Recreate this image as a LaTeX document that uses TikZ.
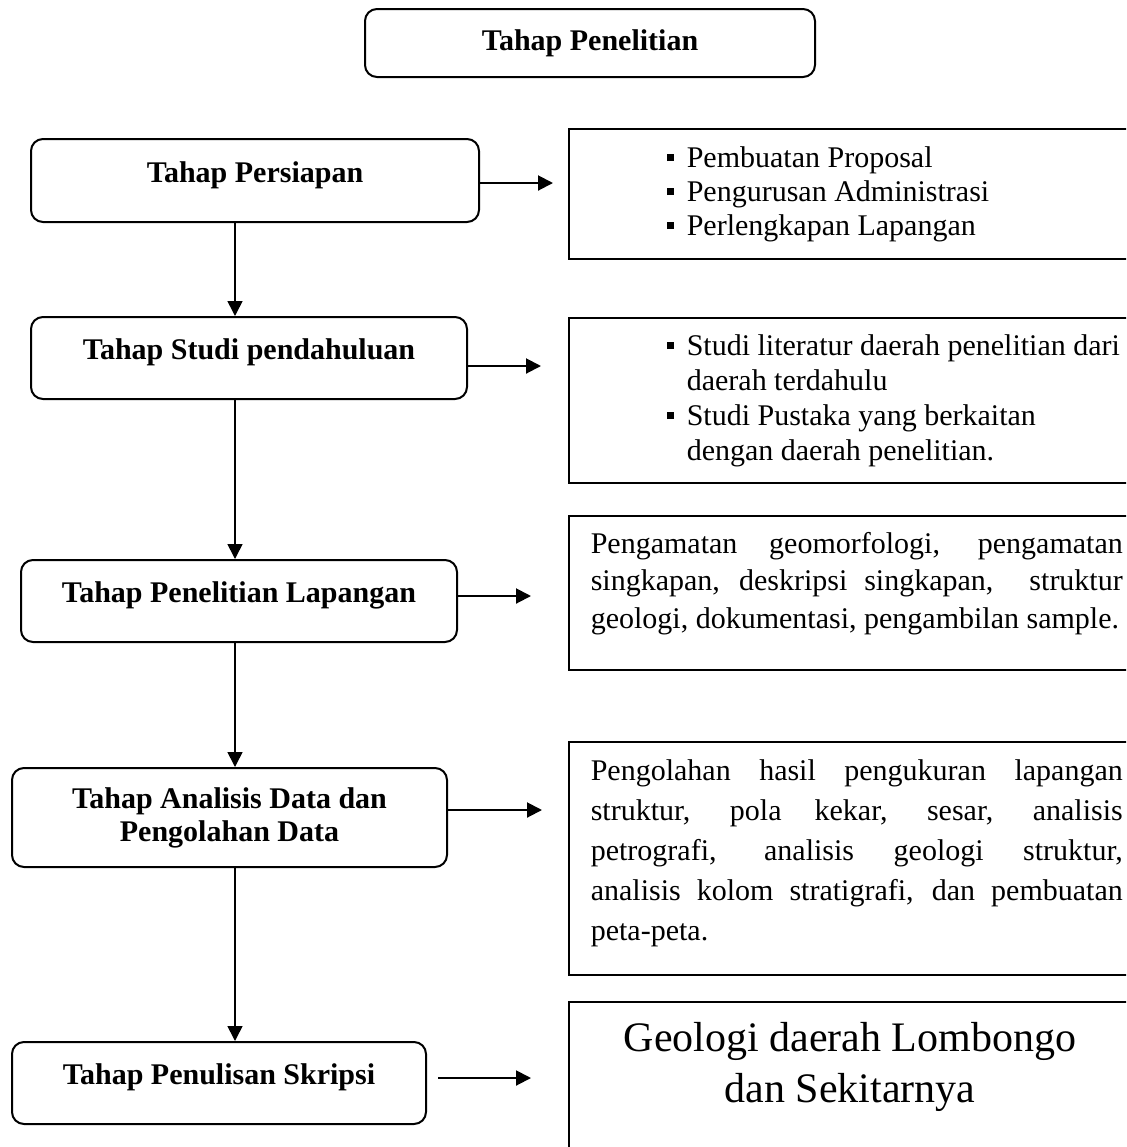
\documentclass[tikz,border=0pt]{standalone}
\usepackage{fontspec}
\setmainfont{Liberation Serif}
\usetikzlibrary{arrows.meta}

\newcommand{\kotak}{\rule[3pt]{3.5pt}{3.5pt}}

\begin{document}
\begin{tikzpicture}[x=0.5pt,y=-0.5pt,->,>={Triangle[length=7.5pt,width=7.5pt]},
                    line width=0.8pt]
  \tikzstyle{tahap}=[draw,rounded corners=6pt,line width=1pt,inner sep=0pt,align=center,
                     font=\fontsize{15}{16.5}\selectfont\bfseries]
  \tikzstyle{naik}=[text height=11pt,text depth=9.5pt]
  \tikzstyle{isi}=[draw,line width=1pt,inner sep=0pt,minimum width=285.5pt]
  \tikzstyle{teks}=[anchor=base west,inner sep=0pt]

  \useasboundingbox (0,0) rectangle (1126,1147);
  \clip (0,0) rectangle (1126,1147);

  \node[tahap,minimum width=225pt,minimum height=34pt]        (penelitian) at (590,43)     {Tahap Penelitian};

  \node[tahap,naik,minimum width=224pt,minimum height=41.5pt] (persiapan)  at (255,180.5)  {Tahap Persiapan};
  \node[tahap,naik,minimum width=218pt,minimum height=41pt]   (studi)      at (249,358)    {Tahap Studi pendahuluan};
  \node[tahap,naik,minimum width=218pt,minimum height=41pt]   (lapangan)   at (239,601)    {Tahap Penelitian Lapangan};
  \node[tahap,minimum width=217.5pt,minimum height=49.5pt]    (analisis)   at (229.5,817.5) {Tahap Analisis Data dan\\Pengolahan Data};
  \node[tahap,naik,minimum width=207pt,minimum height=41pt]   (skripsi)    at (219,1083)   {Tahap Penulisan Skripsi};

  % kotak keterangan di kanan
  \node[isi,minimum height=65pt]   (isi1) at (854.5,194)   {};
  \node[isi,minimum height=82.5pt] (isi2) at (854.5,400.5) {};
  \node[isi,minimum height=77pt]   (isi3) at (854.5,593)   {};
  \node[isi,minimum height=116.5pt] (isi4) at (854.5,858.5) {};
  \node[isi,minimum height=84pt]   (isi5) at (854.5,1086)  {};

  \node[teks,font=\fontsize{15}{17}\selectfont] (teks1) at (666,167)
    {\begin{tabular}[t]{@{}l@{\hspace{6.5pt}}l@{}}
      \kotak & Pembuatan Proposal\\
      \kotak & Pengurusan Administrasi\\
      \kotak & Perlengkapan Lapangan
    \end{tabular}};
  \node[teks,font=\fontsize{15}{17.5}\selectfont] (teks2) at (666,355)
    {\begin{tabular}[t]{@{}l@{\hspace{6.5pt}}l@{}}
      \kotak & Studi literatur daerah penelitian dari\\
             & daerah terdahulu\\
      \kotak & Studi Pustaka yang berkaitan\\
             & dengan daerah penelitian.
    \end{tabular}};
  \node[teks,font=\fontsize{15}{18.75}\selectfont] (teks3) at (590,553)
    {\parbox[t]{266pt}{Pengamatan geomorfologi, pengamatan\linebreak
      singkapan, deskripsi singkapan, ~struktur\linebreak
      geologi, dokumentasi, pengambilan sample.}};
  \node[teks,font=\fontsize{15}{20}\selectfont] (teks4) at (590,780)
    {\parbox[t]{266pt}{Pengolahan hasil pengukuran lapangan\linebreak
      struktur, pola kekar, sesar, analisis\linebreak
      petrografi, analisis geologi struktur,\linebreak
      analisis kolom stratigrafi, dan pembuatan\linebreak
      peta-peta.}};
  \node[anchor=base,inner sep=0pt,font=\fontsize{21}{25.5}\selectfont] (teks5) at (850,1051)
    {\begin{tabular}[t]{@{}c@{}}
      Geologi daerah Lombongo\\
      dan Sekitarnya
    \end{tabular}};

  % panah turun
  \coordinate (sumbu) at (235,0);
  \draw (persiapan.south -| sumbu) -- (studi.north -| sumbu);
  \draw (studi.south -| sumbu)     -- (lapangan.north -| sumbu);
  \draw (lapangan.south -| sumbu)  -- (analisis.north -| sumbu);
  \draw (analisis.south -| sumbu)  -- (skripsi.north -| sumbu);

  % panah ke kanan
  \draw[line width=1pt,shorten >=7.5pt]  (persiapan.east |- 0,183) -- (isi1.west |- 0,183);
  \draw[line width=1pt,shorten >=13.5pt] (studi.east |- 0,366)     -- (isi2.west |- 0,366);
  \draw[line width=1pt,shorten >=18.5pt] (lapangan.east |- 0,596)  -- (isi3.west |- 0,596);
  \draw[line width=1pt,shorten >=13pt]   (analisis.east |- 0,810)  -- (isi4.west |- 0,810);
  \draw[line width=1pt,shorten <=5.5pt,shorten >=18.5pt] (skripsi.east |- 0,1078) -- (isi5.west |- 0,1078);
\end{tikzpicture}
\end{document}
